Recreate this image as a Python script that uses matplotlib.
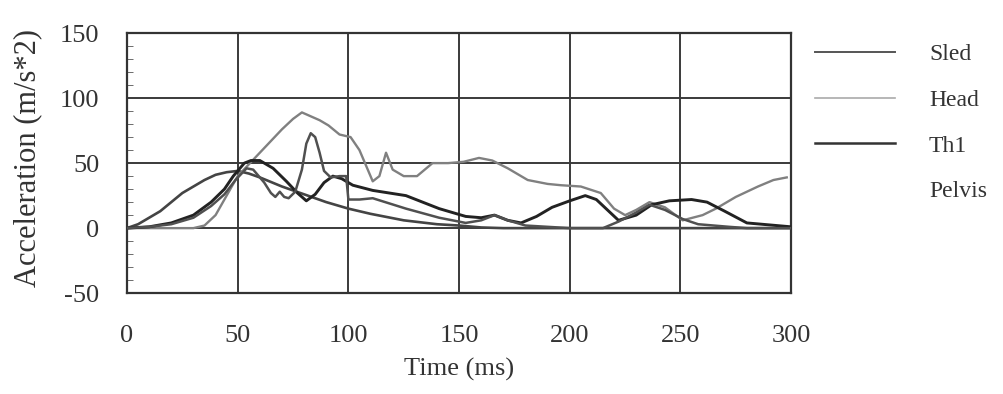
import matplotlib
matplotlib.use("Agg")
import matplotlib.pyplot as plt
from matplotlib.lines import Line2D
from matplotlib.ticker import MultipleLocator

plt.rcParams['font.family'] = ['Liberation Serif', 'DejaVu Serif']
plt.rcParams['axes.unicode_minus'] = False

# ---- data ----
series_names = ["Sled", "Head", "Th1", "Pelvis"]

sled_t = [0, 5, 10, 15, 20, 25, 30, 35, 40, 45, 50, 55, 60, 70, 80, 90, 100, 110, 125, 140, 150, 160, 170, 300]
sled_v = [0, 3, 8, 13, 20, 27, 32, 37, 41, 43, 44, 42, 39, 32, 26, 20, 15, 11, 6, 3, 2, 0.5, 0, 0]

head_t = [0, 30, 35, 40, 45, 50, 55, 60, 65, 70, 75, 79, 83, 87, 91, 96, 101, 105, 108, 111, 114, 117,
          120, 125, 131, 138, 145, 152, 159, 165, 172, 181, 190, 196, 205, 214, 220, 225, 230, 236, 243,
          251, 260, 266, 275, 285, 292, 298]
head_v = [0, 0, 2, 10, 25, 40, 49, 58, 67, 76, 84, 89, 86, 83, 79, 72, 70, 60, 48, 36, 40, 58,
          45, 40, 40, 50, 50, 51, 54, 52, 46, 37, 34, 33, 32, 27, 15, 10, 14, 20, 16,
          6, 10, 15, 24, 32, 37, 39]

th1_t = [0, 10, 20, 30, 38, 44, 48, 53, 56, 60, 66, 72, 77, 81, 85, 89, 93, 97, 102, 111, 126, 141,
         153, 160, 166, 172, 178, 185, 192, 200, 207, 212, 217, 222, 230, 237, 245, 255, 262, 270, 280, 300]
th1_v = [0, 1, 4, 10, 20, 30, 40, 50, 52, 52, 46, 36, 27, 21, 26, 35, 40, 38, 33, 29, 25, 15,
         9, 8, 10, 6, 4, 9, 16, 21, 25, 22, 14, 6, 10, 18, 21, 22, 20, 13, 4, 1]

pelvis_t = [0, 10, 20, 30, 38, 44, 49, 54, 57, 62, 65, 67, 69, 71, 73, 76, 79, 81, 83, 85, 87, 89,
            92, 96, 99, 100, 105, 111, 126, 141, 153, 160, 166, 172, 180, 190, 200, 215, 222, 230, 236,
            243, 251, 258, 265, 272, 280, 300]
pelvis_v = [0, 1, 3, 8, 17, 26, 37, 46, 45, 35, 27, 24, 28, 24, 23, 28, 45, 65, 73, 70, 58, 44,
            39, 40, 40, 22, 22, 23, 15, 8, 4, 6, 10, 6, 2, 1, 0, 0, 5, 12, 18,
            14, 7, 3, 2, 1, 0, 0]

x_ticks = [0, 50, 100, 150, 200, 250, 300]
y_ticks = [-50, 0, 50, 100, 150]

# ---- figure ----
fig = plt.figure(figsize=(10.04, 3.94), dpi=100)
ax = fig.add_axes([0.1265, 0.256, 0.6615, 0.660])

styles = {
    "Sled": dict(color="#444444", lw=1.9),
    "Head": dict(color="#808080", lw=1.7),
    "Th1": dict(color="#222222", lw=2.1),
    "Pelvis": dict(color="#505050", lw=1.8),
}
data = {"Sled": (sled_t, sled_v), "Head": (head_t, head_v),
        "Th1": (th1_t, th1_v), "Pelvis": (pelvis_t, pelvis_v)}
for name in series_names:
    t, v = data[name]
    ax.plot(t, v, **styles[name], zorder=3)

ax.set_xlim(0, 300)
ax.set_ylim(-50, 150)
ax.set_xticks(x_ticks)
ax.set_yticks(y_ticks)
ax.yaxis.set_minor_locator(MultipleLocator(10))
ax.grid(True, which="major", color="#3a3a3a", lw=1.4)
ax.tick_params(axis="both", which="major", length=0, labelsize=19, colors="#333333")
ax.tick_params(axis="y", which="major", pad=20)
ax.tick_params(axis="x", which="major", pad=23)
ax.tick_params(axis="y", which="minor", direction="in", length=4, color="#555555")
for s in ax.spines.values():
    s.set_color("#333333")
    s.set_linewidth(1.6)

ax.set_xlabel("Time (ms)", fontsize=19, color="#333333", labelpad=8)
ax.set_ylabel("Acceleration (m/s*2)", fontsize=22, color="#333333")
ax.yaxis.set_label_coords(-0.128, 0.52)

# legend (Pelvis sample did not reproduce in the scan)
handles = [Line2D([], [], color="#555555", lw=1.4),
           Line2D([], [], color="#aaaaaa", lw=1.2),
           Line2D([], [], color="#333333", lw=1.8),
           Line2D([], [], color="none", lw=1.2)]
leg = ax.legend(handles, series_names, loc="upper left", bbox_to_anchor=(1.021, 0.995),
                frameon=False, fontsize=17, handlelength=3.4, handletextpad=1.45,
                labelspacing=1.02, borderaxespad=0)
for txt in leg.get_texts():
    txt.set_color("#333333")

fig.savefig("out.png", dpi=100, facecolor="white")
